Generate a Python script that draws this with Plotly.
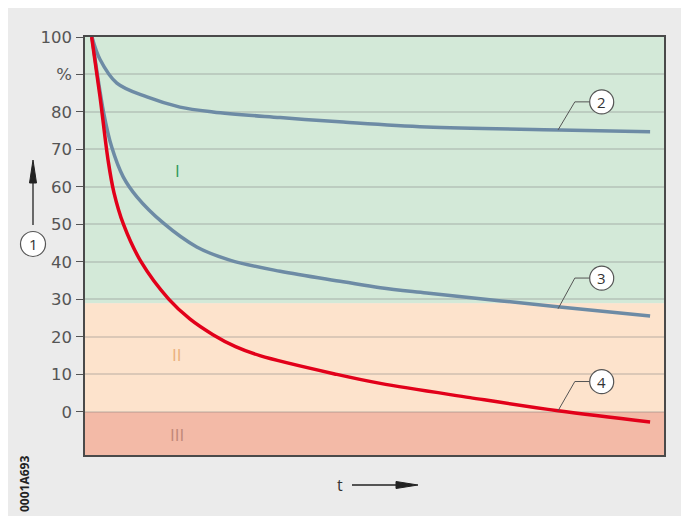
import plotly.graph_objects as go

# ---- data ----
t_curve2 = [1.2, 2.6, 5.5, 10.7, 16.4, 22.1, 33.7, 44.6, 59.0, 82.0, 97.6]
v_curve2 = [100, 94, 87.7, 84.0, 81.3, 80.0, 78.5, 77.3, 76.0, 75.2, 74.7]

t_curve3 = [1.2, 3.2, 4.6, 6.6, 9.0, 13.5, 19.3, 25.0, 33.7, 44.6, 51.0, 59.0, 82.0, 97.6]
v_curve3 = [100, 80, 70.7, 62.7, 57.3, 50.4, 44.0, 40.5, 37.5, 34.7, 33.1, 31.7, 28.0, 25.6]

t_curve4 = [1.15, 2.6, 4.0, 5.0, 6.65, 9.7, 14.5, 18.1, 22.1, 26.0, 30.2, 43.5, 51.0, 66.5, 81.7, 97.6]
v_curve4 = [100, 84, 67, 58.5, 50, 40, 30, 24.8, 20.6, 17.4, 15, 10, 7.6, 3.8, 0.3, -2.7]

tick_vals = [0, 10, 20, 30, 40, 50, 60, 70, 80, 90, 100]
tick_text = ["0", "10", "20", "30", "40", "50", "60", "70", "80", "%", "100"]

zone_bounds = [(29, 100), (0, 29), (-11.5, 0)]
zone_colors = ["#d3e9d8", "#fde3cc", "#f3baa7"]
zone_labels = ["I", "II", "III"]
zone_label_y = [64.5, 15.2, -5.9]
zone_label_colors = ["#2f9a5a", "#eab07c", "#c08878"]

curve_labels = ["2", "3", "4"]
curve_label_y = [82.7, 35.7, 8.1]
curve_touch_y = [75.2, 27.5, 0.3]

# ---- layout geometry (pixels) ----
W, H = 689, 516
OFF = 8  # page body margin
L, R, T, B = 77, 33, 29, 69
PW, PH = W - L - R, H - T - B


def px(x):
    return (x - OFF - L) / PW


def py(y):
    return (H - B - (y - OFF)) / PH


fig = go.Figure()

GRAY = "#6d8ba5"
RED = "#e2001a"
fig.add_trace(go.Scatter(x=t_curve2, y=v_curve2, mode="lines",
                         line=dict(color=GRAY, width=3.5, shape="spline"), hoverinfo="skip"))
fig.add_trace(go.Scatter(x=t_curve3, y=v_curve3, mode="lines",
                         line=dict(color=GRAY, width=3.5, shape="spline"), hoverinfo="skip"))
fig.add_trace(go.Scatter(x=t_curve4, y=v_curve4, mode="lines",
                         line=dict(color=RED, width=3.5, shape="spline"), hoverinfo="skip"))

shapes = []
# zones
for (y0, y1), c in zip(zone_bounds, zone_colors):
    shapes.append(dict(type="rect", xref="x domain", yref="y", x0=0, x1=1, y0=y0, y1=y1,
                       fillcolor=c, line_width=0, layer="below"))

annotations = []
for lab, yy, col in zip(zone_labels, zone_label_y, zone_label_colors):
    annotations.append(dict(x=15.9, y=yy, xref="x", yref="y", text=lab, showarrow=False,
                            xanchor="center", yanchor="middle",
                            font=dict(family="Open Sans", size=17, color=col)))

# curve labels with leader lines
cx = 601.7
for lab, ly, ty in zip(curve_labels, curve_label_y, curve_touch_y):
    cy_px = 412 - ly * 3.75
    shapes.append(dict(type="path", xref="x", yref="y",
                       path=f"M 87.2 {ly} L 84.6 {ly} L 81.7 {ty}",
                       line=dict(color="#555555", width=1)))
    shapes.append(dict(type="circle", xref="paper", yref="paper",
                       x0=px(cx - 12), x1=px(cx + 12), y0=py(cy_px + 12), y1=py(cy_px - 12),
                       fillcolor="white", line=dict(color="#555555", width=1.2), layer="above"))
    annotations.append(dict(x=px(cx), y=py(cy_px), xref="paper", yref="paper", text=lab,
                            xanchor="center", yanchor="middle",
                            showarrow=False, font=dict(family="Open Sans", size=15, color="#333333")))

# circle 1 and vertical arrow
shapes.append(dict(type="circle", xref="paper", yref="paper",
                   x0=px(33 - 12.5), x1=px(33 + 12.5), y0=py(244 + 12.5), y1=py(244 - 12.5),
                   fillcolor="white", line=dict(color="#555555", width=1.2)))
annotations.append(dict(x=px(33), y=py(244), xref="paper", yref="paper", text="1", showarrow=False,
                        xanchor="center", yanchor="middle",
                        font=dict(family="Open Sans", size=15, color="#333333")))
shapes.append(dict(type="line", xref="paper", yref="paper", x0=px(33), x1=px(33), y0=py(225), y1=py(178),
                   line=dict(color="#222222", width=1.3)))
shapes.append(dict(type="path", xref="paper", yref="paper",
                   path=f"M {px(29.5)} {py(183)} L {px(33)} {py(160)} L {px(36.5)} {py(183)} Z",
                   fillcolor="#222222", line=dict(color="#222222", width=1)))

# t arrow
annotations.append(dict(x=px(340), y=py(485), xref="paper", yref="paper", text="t", showarrow=False,
                        xanchor="center", yanchor="middle",
                        font=dict(family="Open Sans", size=16, color="#333333")))
shapes.append(dict(type="line", xref="paper", yref="paper", x0=px(352), x1=px(400), y0=py(485), y1=py(485),
                   line=dict(color="#222222", width=1.3)))
shapes.append(dict(type="path", xref="paper", yref="paper",
                   path=f"M {px(396)} {py(481.5)} L {px(418)} {py(485)} L {px(396)} {py(488.5)} Z",
                   fillcolor="#222222", line=dict(color="#222222", width=1)))

# figure code
annotations.append(dict(x=px(24), y=py(484), xref="paper", yref="paper", text="<b>0001A693</b>",
                        showarrow=False, textangle=-90, xanchor="center", yanchor="middle",
                        font=dict(family="Open Sans", size=12, color="#222222")))

fig.update_layout(
    width=W, height=H,
    margin=dict(l=L, r=R, t=T, b=B, pad=0),
    paper_bgcolor="#ebebeb",
    plot_bgcolor="rgba(0,0,0,0)",
    showlegend=False,
    shapes=shapes,
    annotations=annotations,
    xaxis=dict(range=[0, 100], showgrid=False, zeroline=False, showticklabels=False, ticks="",
               showline=True, mirror=True, linecolor="#4a4a4a", linewidth=1.5, fixedrange=True),
    yaxis=dict(range=[-11.5, 100], tickvals=tick_vals, ticktext=tick_text,
               showgrid=True, gridcolor="rgba(120,120,120,0.25)", gridwidth=1.5, zeroline=False,
               ticks="outside", ticklen=7, tickcolor="#555555", tickwidth=1.2,
               ticklabelstandoff=1,
               tickfont=dict(family="DejaVu Sans", size=16.5, color="#555555"),
               showline=True, mirror=True, linecolor="#4a4a4a", linewidth=1.5, fixedrange=True),
)

fig.write_html("out.html")
